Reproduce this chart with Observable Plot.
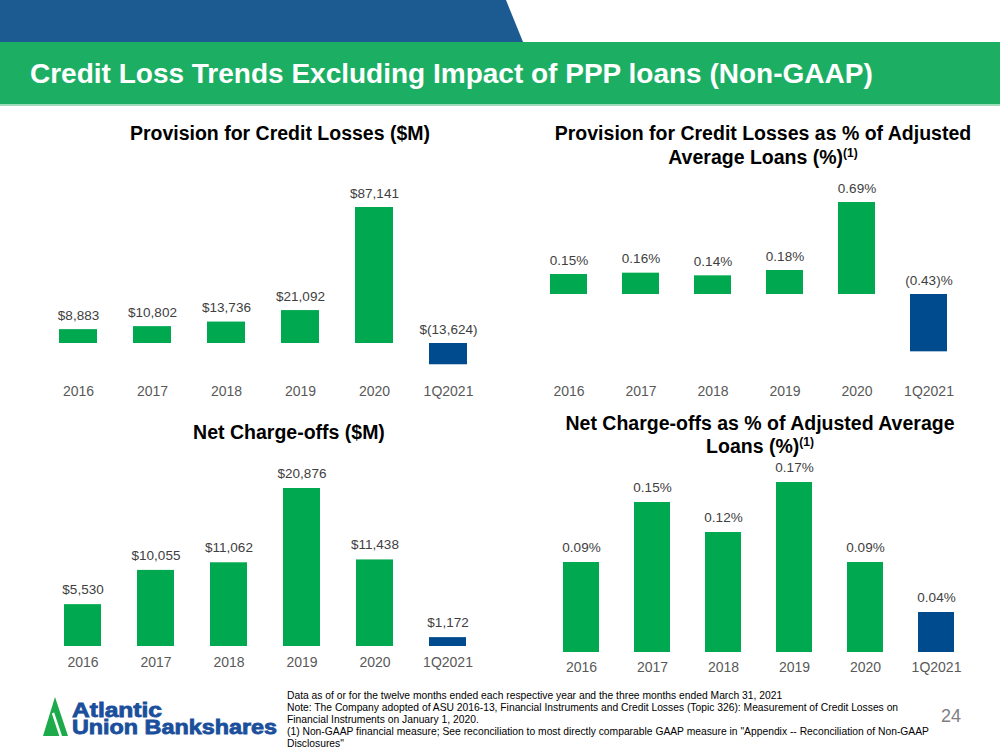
<!DOCTYPE html>
<html><head><meta charset="utf-8">
<script src="https://cdn.jsdelivr.net/npm/d3@7"></script>
<script src="https://cdn.jsdelivr.net/npm/@observablehq/plot@0.6"></script>
<style>
html,body{margin:0;padding:0;}
body{width:1000px;height:750px;position:relative;overflow:hidden;background:#fff;font-family:"Liberation Sans",Arial,sans-serif;}
.abs{position:absolute;}
#band{left:0;top:42px;width:1000px;height:62px;background:#1CAF64;}
#bandline{left:0;top:104px;width:1000px;height:2px;background:#9fdcb9;}
#title{left:30px;top:58px;color:#fff;font-weight:bold;font-size:28px;line-height:32px;white-space:nowrap;}
.ct{position:absolute;font-weight:bold;font-size:19.5px;color:#000;text-align:center;line-height:24px;white-space:nowrap;z-index:5;}
.ct sup{font-size:12px;vertical-align:7px;line-height:0;}
.chart{position:absolute;}
.chart svg{overflow:visible;max-width:none;}
#foot{left:287px;top:690px;font-size:10.3px;line-height:12px;color:#000;white-space:nowrap;font-family:"Liberation Sans Narrow","Liberation Sans",Arial,sans-serif;}
#pnum{left:941px;top:706px;font-size:18px;color:#808080;}
</style></head>
<body>
<svg class="abs" style="left:0;top:0" width="1000" height="42"><polygon points="0,0 506,0 523,42 0,42" fill="#1C5B91"/></svg>
<div id="band" class="abs"></div>
<div id="bandline" class="abs"></div>
<div id="title" class="abs">Credit Loss Trends Excluding Impact of PPP loans (Non-GAAP)</div>

<div class="ct" style="left:80px;top:121px;width:400px;">Provision for Credit Losses ($M)</div>
<div class="ct" style="left:513px;top:121px;width:500px;">Provision for Credit Losses as % of Adjusted</div>
<div class="ct" style="left:513px;top:145px;width:500px;">Average Loans (%)<sup>(1)</sup></div>
<div class="ct" style="left:89px;top:420px;width:400px;">Net Charge-offs ($M)</div>
<div class="ct" style="left:510px;top:411px;width:500px;">Net Charge-offs as % of Adjusted Average</div>
<div class="ct" style="left:510px;top:434px;width:500px;">Loans (%)<sup>(1)</sup></div>

<div id="c1" class="chart"></div>
<div id="c2" class="chart"></div>
<div id="c3" class="chart"></div>
<div id="c4" class="chart"></div>

<svg class="abs" style="left:0;top:680px" width="290" height="70">
  <polygon points="43,56 55,17 68,56" fill="#1DAA4B"/>
  <line x1="53" y1="33" x2="61" y2="57" stroke="#fff" stroke-width="2.5"/>
  <text x="72" y="37" font-family="Liberation Sans, Arial" font-weight="bold" font-size="20" fill="#1B4F9C" stroke="#1B4F9C" stroke-width="0.8" textLength="90" lengthAdjust="spacingAndGlyphs">Atlantic</text>
  <text x="72" y="54" font-family="Liberation Sans, Arial" font-weight="bold" font-size="20" fill="#1B4F9C" stroke="#1B4F9C" stroke-width="0.8" textLength="205" lengthAdjust="spacingAndGlyphs">Union Bankshares</text>
</svg>
<div id="foot" class="abs">Data as of or for the twelve months ended each respective year and the three months ended March 31,  2021<br>Note: The Company  adopted of ASU 2016-13, Financial Instruments and Credit Losses (Topic 326): Measurement of Credit Losses on<br>Financial Instruments on January 1, 2020.<br>(1) Non-GAAP financial measure; See reconciliation to most directly comparable GAAP measure in "Appendix -- Reconciliation of Non-GAAP<br>Disclosures"</div>
<div id="pnum" class="abs">24</div>

<script>
// ---- data ----
const categories = ["2016", "2017", "2018", "2019", "2020", "1Q2021"];
const provision = [8883, 10802, 13736, 21092, 87141, -13624];
const provisionPct = [0.15, 0.16, 0.14, 0.18, 0.69, -0.43];
const netChargeOffs = [5530, 10055, 11062, 20876, 11438, 1172];
const netChargeOffsPct = [0.09, 0.15, 0.12, 0.17, 0.09, 0.04];

const GREEN = "#00A94F", BLUE = "#004B8D";
const num = d3.format(",");
const fmtDollar = v => v < 0 ? `$(${num(-v)})` : `$${num(v)}`;
const fmtPct = v => v < 0 ? `(${(-v).toFixed(2)})%` : `${v.toFixed(2)}%`;

function drawChart(o) {
  const p = 0.49;
  const range0 = o.firstCenter - (p + (1 - p) / 2) * o.step;
  const rangeEnd = range0 + (categories.length + p) * o.step;
  const plotTop = o.baselineY - o.domain[1] * o.k;
  const plotBottom = o.baselineY - o.domain[0] * o.k;
  const rows = categories.map((c, i) => ({cat: c, v: o.values[i]}));
  const el = document.getElementById(o.id);
  el.style.left = o.left + "px";
  el.style.top = o.top + "px";
  el.style.width = o.width + "px";
  const chart = Plot.plot({
    width: o.width,
    height: o.height,
    marginLeft: range0 - o.left,
    marginRight: o.left + o.width - rangeEnd,
    marginTop: plotTop - o.top,
    marginBottom: o.top + o.height - plotBottom,
    style: {background: "transparent", fontFamily: "Liberation Sans, Arial, sans-serif", fontSize: "14px", color: "#595959", overflow: "visible"},
    x: {domain: categories, padding: p, label: null},
    y: {domain: o.domain, axis: null},
    color: {type: "identity"},
    marks: [
      Plot.barY(rows, {x: "cat", y: "v", fill: d => d.cat === "1Q2021" ? BLUE : GREEN}),
      Plot.text(rows, {x: "cat", y: d => Math.max(0, d.v), text: d => o.fmt(d.v), dy: o.dy, fill: "#404040", fontSize: 13.5}),
      Plot.axisX({tickSize: 0, tickPadding: o.labelCenterY - 5 - plotBottom, fontSize: 14, label: null})
    ]
  });
  el.appendChild(chart);
}

drawChart({id: "c1", left: 0, top: 170, width: 510, height: 240, values: provision, fmt: fmtDollar,
  domain: [-20000, 100000], baselineY: 343, k: 136 / 87141, firstCenter: 78, step: 74, labelCenterY: 391, dy: -14});
drawChart({id: "c2", left: 500, top: 170, width: 500, height: 240, values: provisionPct, fmt: fmtPct,
  domain: [-0.5, 0.8], baselineY: 294, k: 92 / 0.69, firstCenter: 568, step: 72.2, labelCenterY: 391, dy: -14});
drawChart({id: "c3", left: 0, top: 450, width: 510, height: 230, values: netChargeOffs, fmt: fmtDollar,
  domain: [0, 25000], baselineY: 646, k: 158 / 20876, firstCenter: 81, step: 73.6, labelCenterY: 662, dy: -15});
drawChart({id: "c4", left: 500, top: 450, width: 500, height: 230, values: netChargeOffsPct, fmt: fmtPct,
  domain: [0, 0.2], baselineY: 652, k: 1000, firstCenter: 579, step: 71.8, labelCenterY: 667, dy: -15});
</script>
</body></html>
